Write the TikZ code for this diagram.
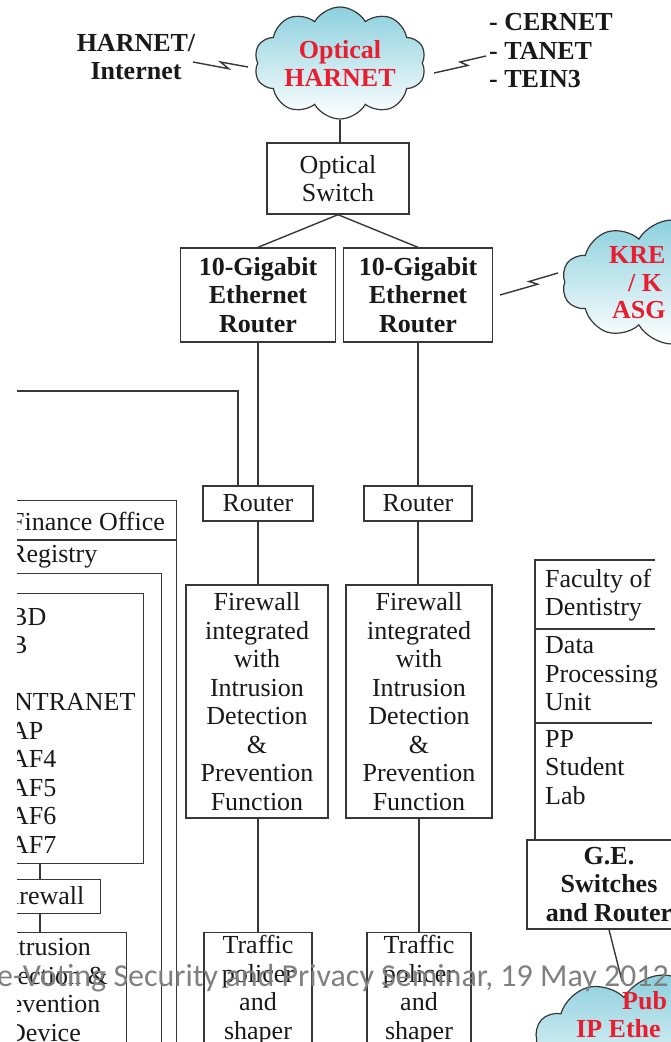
\documentclass[tikz,border=0pt]{standalone}
\usepackage{fontspec}
\setmainfont{Liberation Serif}
\newfontfamily\wmfont{Carlito}
\usetikzlibrary{shapes.symbols,calc}
\definecolor{cloudtop}{RGB}{140,208,222}
\definecolor{cloudred}{RGB}{232,30,48}
\definecolor{lnc}{RGB}{55,55,55}
\definecolor{wmgray}{RGB}{128,128,128}
\newcommand\boltline[2]{\draw[ln] (#1) -- ($(#1)!0.65!(#2)+(0,3.5)$) -- ($(#1)!0.5!(#2)+(0,-2.5)$) -- (#2);}
\begin{document}
\begin{tikzpicture}[x=1pt,y=-1pt,
  every node/.style={font=\fontsize{26}{28.5}\selectfont, inner sep=0pt, text=black!90},
  ln/.style={draw=lnc, line width=1.4pt},
  box/.style={ln, rectangle, align=center, inner sep=0pt},
  bf/.style={font=\fontsize{26}{28.5}\selectfont\bfseries},
  cloudnode/.style={cloud, cloud puffs=10, cloud puff arc=120, cloud ignores aspect, draw=lnc, line width=1.2pt, top color=cloudtop, bottom color=white, align=center},
  redtxt/.style={text=cloudred, font=\fontsize{26}{28}\selectfont\bfseries},
  wm/.style={text=wmgray, font=\wmfont\fontsize{32}{32}\selectfont}]
\useasboundingbox (0,0) rectangle (671,1042);
\fill[white] (0,0) rectangle (671,1042);
\begin{scope}
\clip (17,0) rectangle (671,1042);
% ---- top ----
\node[cloudnode, minimum width=172, minimum height=112, redtxt] (oh) at (340,63) {Optical\\HARNET};
\node[bf, align=center] (hl) at (136,57) {HARNET/\\Internet};
\node[bf, align=left, anchor=west] (cl) at (489,51) {- CERNET\\- TANET\\- TEIN3};
\coordinate (b1a) at (193,62);
\coordinate (b1b) at (248,67);
\boltline{b1a}{b1b}
\coordinate (b2a) at (434,73);
\coordinate (b2b) at (486,56);
\boltline{b2a}{b2b}
\node[box, minimum width=142, minimum height=71] (osw) at (338,178.5) {Optical\\Switch};
\draw[ln] (oh.south) -- (oh.south |- osw.north);
\node[box, bf, minimum width=155, minimum height=94] (r1) at (258,295) {10-Gigabit\\Ethernet\\Router};
\node[box, bf, minimum width=149, minimum height=94] (r2) at (418,295) {10-Gigabit\\Ethernet\\Router};
\draw[ln] (osw.south) -- (r1.north);
\draw[ln] (osw.south) -- (r2.north);
\node[cloudnode, minimum width=220, minimum height=124] (kc) at (672,282) {};
\node[redtxt, anchor=west] (kt1) at (609,255) {KRE};
\node[redtxt, anchor=west] (kt2) at (628,283) {/ K};
\node[redtxt, anchor=west] (kt3) at (612,310) {ASG};
\coordinate (b3a) at (500,295);
\coordinate (b3b) at (558,273);
\boltline{b3a}{b3b}
% ---- routers & firewalls ----
\node[box, minimum width=110, minimum height=35] (ra) at (258,503.5) {Router};
\node[box, minimum width=108, minimum height=35] (rb) at (418,503.5) {Router};
\draw[ln] (r1.south) -- (r1.south |- ra.north);
\draw[ln] (r2.south) -- (r2.south |- rb.north);
\coordinate (leftin) at (10,391);
\draw[ln] (leftin) -| ($(ra.north)+(-20,0)$);
\node[box, minimum width=142, minimum height=233] (fa) at (257,701.5) {Firewall\\integrated\\with\\Intrusion\\Detection\\\&\\Prevention\\Function};
\node[box, minimum width=146, minimum height=233] (fb) at (419,701.5) {Firewall\\integrated\\with\\Intrusion\\Detection\\\&\\Prevention\\Function};
\draw[ln] (ra.south) -- (ra.south |- fa.north);
\draw[ln] (rb.south) -- (rb.south |- fb.north);
\node[box, anchor=north, minimum width=108, minimum height=140] (ta) at (258,932) {};
\node[box, anchor=north, minimum width=104, minimum height=140] (tb) at (419,932) {};
\node[align=center] (tat) at (258,990) {Traffic\\policer\\and\\shaper};
\node[align=center] (tbt) at (419,990) {Traffic\\policer\\and\\shaper};
\draw[ln] (fa.south -| ta.north) -- (ta.north);
\draw[ln] (fb.south -| tb.north) -- (tb.north);
% ---- left ----
\node[box, anchor=north east, minimum width=260, minimum height=600] (fin) at (177,500) {};
\draw[ln] ($(fin.north west)+(0,40)$) -- ($(fin.north east)+(0,40)$);
\node[anchor=west] (fint) at (10,521) {Finance Office};
\node[anchor=west] (regt) at (9,557) {Registry};
\node[box, anchor=north east, minimum width=250, minimum height=560] (reg) at (162,573) {};
\node[box, anchor=north east, minimum width=230, minimum height=270] (bd) at (144,593) {};
\node[align=left, anchor=north west] (bdt) at (10,608) {BD\\B\\\mbox{}\\\hspace{4pt}NTRANET\\AP\\AF4\\AF5\\AF6\\AF7};
\node[box, anchor=north east, minimum width=150, minimum height=34] (fws) at (101,879) {};
\node (fwst) at (41,896) {Firewall};
\node[box, anchor=north east, minimum width=200, minimum height=150] (ids) at (127,932) {};
\node[align=center] (idst) at (44,990) {Intrusion\\Detection \&\\Prevention\\Device};
\coordinate (cx) at (40,0);
\draw[ln] (bd.south -| cx) -- (fws.north -| cx);
\draw[ln] (fws.south -| cx) -- (ids.north -| cx);
% ---- right ----
\node[box, bf, minimum width=164, minimum height=89] (ge) at (609,884.5) {G.E.\\Switches\\and Router};
\coordinate (fac) at (535,560);
\draw[ln] ($(fac)+(120,0)$) -- (fac) -- (fac |- ge.north);
\draw[ln] ($(fac)+(0,69)$) -- ++(120,0);
\draw[ln] ($(fac)+(0,163)$) -- ++(117,0);
\node[align=left, anchor=west] (f1) at (545,595) {Faculty of\\Dentistry};
\node[align=left, anchor=west] (f2) at (545,674) {Data\\Processing\\Unit};
\node[align=left, anchor=west] (f3) at (545,767.5) {PP\\Student\\Lab};
\node[cloudnode, minimum width=256, minimum height=130] (pc) at (663,1040) {};
\node[redtxt, anchor=west] (pt1) at (622,1001) {Pub};
\node[redtxt, anchor=west] (pt2) at (576,1029) {IP Ethe};
\coordinate (pcin) at (622,981);
\draw[ln] (ge.south) -- (pcin);
\end{scope}
\node[wm, anchor=west] (wmk) at (-3,978) {e-Voting Security and Privacy Seminar, 19 May 2012};
\end{tikzpicture}
\end{document}
